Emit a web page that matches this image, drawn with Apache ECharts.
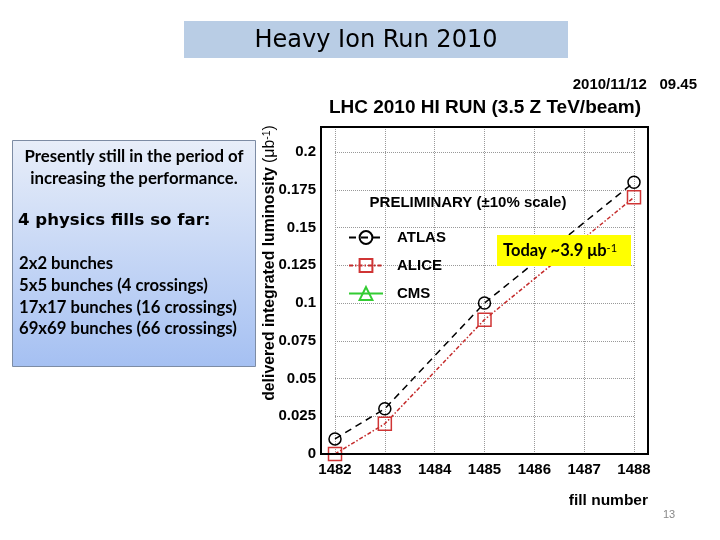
<!DOCTYPE html>
<html><head><meta charset="utf-8">
<script src="https://cdn.jsdelivr.net/npm/echarts@6/dist/echarts.min.js"></script>
<style>html,body{margin:0;padding:0;background:#fff}#c{width:720px;height:540px}</style>
</head><body><div id="c"></div>
<script>
// ---- data ----
const fillNumbers = [1482, 1483, 1485, 1488];
const atlasLumi = [0.010, 0.030, 0.100, 0.180];
const aliceLumi = [0.000, 0.020, 0.089, 0.170];
const cmsLumi = [];
const seriesNames = ['ATLAS', 'ALICE', 'CMS'];
const infoHeader = ['Presently still in the period of', 'increasing the performance.'];
const infoTitle = '4 physics fills so far:';
const infoLines = ['2x2 bunches', '5x5 bunches (4 crossings)', '17x17 bunches (16 crossings)', '69x69 bunches (66 crossings)'];

const pairs = arr => arr.map((v, i) => [fillNumbers[i], v]);
const chart = echarts.init(document.getElementById('c'), null, {renderer: 'canvas'});
const AX = 'Liberation Sans';
const BODY = 'Lato';

const graphics = [
  {type: 'rect', shape: {x: 184, y: 21, width: 384, height: 37}, style: {fill: '#b9cde5'}, z: 10},
  {type: 'text', x: 376, y: 41, z: 11, style: {text: 'Heavy Ion Run 2010', fontSize: 24, fontFamily: 'DejaVu Sans', fill: '#000', textAlign: 'center', textVerticalAlign: 'middle', align: 'center', verticalAlign: 'middle'}},
  {type: 'text', x: 697, y: 85, z: 11, style: {text: '2010/11/12   09.45', fontSize: 15, fontWeight: 'bold', fontFamily: AX, fill: '#000', textAlign: 'right', textVerticalAlign: 'middle', align: 'right', verticalAlign: 'middle'}},
  {type: 'text', x: 485, y: 108, z: 11, style: {text: 'LHC 2010 HI RUN (3.5 Z TeV/beam)', fontSize: 19, fontWeight: 'bold', fontFamily: AX, fill: '#000', textAlign: 'center', textVerticalAlign: 'middle', align: 'center', verticalAlign: 'middle'}},
  {type: 'rect', shape: {x: 321, y: 127, width: 327, height: 327}, style: {fill: 'none', stroke: '#000', lineWidth: 2}, z: 50},
  {type: 'text', x: 468, y: 203, z: 11, style: {text: 'PRELIMINARY (\u00b110% scale)', fontSize: 15, fontWeight: 'bold', fontFamily: AX, fill: '#000', textAlign: 'center', textVerticalAlign: 'middle', align: 'center', verticalAlign: 'middle'}},
  {type: 'rect', shape: {x: 497, y: 235, width: 134, height: 31}, style: {fill: '#ffff00'}, z: 60},
  {type: 'text', x: 503, y: 251, z: 61, style: {text: '{m|Today ~3.9 \u03bcb}{s|-1}', fill: '#000', textAlign: 'left', textVerticalAlign: 'middle', align: 'left', verticalAlign: 'middle',
    rich: {m: {fontSize: 16.5, fontWeight: 'bold', fontFamily: BODY, fill: '#000'}, s: {fontSize: 11, fontFamily: BODY, fill: '#000', verticalAlign: 'top'}}}},
  {type: 'text', x: 270, y: 263, rotation: Math.PI / 2, z: 11, style: {text: '{b|delivered integrated luminosity }{n|(\u03bcb}{s|-1}{n|)}', fill: '#000', textAlign: 'center', textVerticalAlign: 'middle', align: 'center', verticalAlign: 'middle',
    rich: {b: {fontSize: 15.8, fontWeight: 'bold', fontFamily: AX, fill: '#000'}, n: {fontSize: 15.8, fontFamily: AX, fill: '#000'}, s: {fontSize: 10.5, fontFamily: AX, fill: '#000', verticalAlign: 'top'}}}},
  {type: 'text', x: 648, y: 501, z: 11, style: {text: 'fill number', fontSize: 15.5, fontWeight: 'bold', fontFamily: AX, fill: '#000', textAlign: 'right', textVerticalAlign: 'middle', align: 'right', verticalAlign: 'middle'}},
  {type: 'text', x: 669, y: 515, z: 11, style: {text: '13', fontSize: 11, fontFamily: 'Liberation Sans', fill: '#888', textAlign: 'center', textVerticalAlign: 'middle', align: 'center', verticalAlign: 'middle'}},
  {type: 'rect', shape: {x: 12.5, y: 140.5, width: 243, height: 226}, z: 10,
    style: {fill: {type: 'linear', x: 0, y: 0, x2: 0, y2: 1, colorStops: [{offset: 0, color: '#e8eef9'}, {offset: 1, color: '#a5c0f2'}]}, stroke: '#7d8ca4', lineWidth: 1}}
];
infoHeader.forEach((t, i) => graphics.push({type: 'text', x: 134, y: 157 + i * 22, z: 11,
  style: {text: t, fontSize: 16.8, fontWeight: 'bold', fontFamily: BODY, fill: '#000', textAlign: 'center', textVerticalAlign: 'middle', align: 'center', verticalAlign: 'middle'}}));
graphics.push({type: 'text', x: 18, y: 221, z: 11,
  style: {text: infoTitle, fontSize: 16.6, fontWeight: 'bold', fontFamily: 'DejaVu Sans', fill: '#000', textAlign: 'left', textVerticalAlign: 'middle', align: 'left', verticalAlign: 'middle'}});
infoLines.forEach((t, i) => graphics.push({type: 'text', x: 19, y: 264 + i * 21.7, z: 11,
  style: {text: t, fontSize: 16.7, fontWeight: 'bold', fontFamily: BODY, fill: '#000', textAlign: 'left', textVerticalAlign: 'middle', align: 'left', verticalAlign: 'middle'}}));

const isTick = (v, step) => Math.abs(v / step - Math.round(v / step)) < 1e-6;

chart.setOption({
  animation: false,
  backgroundColor: '#fff',
  grid: {left: 335, top: 127, width: 299, height: 327, containLabel: false},
  xAxis: {type: 'value', min: 1482, max: 1488, interval: 1,
    axisLine: {show: false}, axisTick: {show: false},
    splitLine: {show: true, lineStyle: {color: '#999', type: 'dotted', width: 1}},
    axisLabel: {margin: 8, fontSize: 15, fontWeight: 'bold', fontFamily: AX, color: '#000', formatter: v => String(v)}},
  yAxis: {type: 'value', min: 0, max: 0.2166, interval: 0.025, offset: 14,
    axisLine: {show: false}, axisTick: {show: false},
    splitLine: {show: true, lineStyle: {color: '#999', type: 'dotted', width: 1}},
    axisLabel: {margin: 5, fontSize: 15, fontWeight: 'bold', fontFamily: AX, color: '#000',
      formatter: v => isTick(v, 0.025) ? String(+v.toFixed(3)) : ''}},
  legend: {orient: 'vertical', left: 343, top: 225, itemWidth: 34, itemHeight: 16, itemGap: 13, selectedMode: false,
    data: seriesNames,
    textStyle: {fontSize: 15, fontWeight: 'bold', fontFamily: AX, color: '#000', padding: [0, 0, 0, 9]}},
  series: [
    {name: 'ATLAS', type: 'line', data: pairs(atlasLumi), symbol: 'circle', symbolSize: 12, z: 3,
      itemStyle: {color: 'rgba(0,0,0,0)', borderColor: '#000', borderWidth: 1.5},
      lineStyle: {color: '#000', width: 1.5, type: [7, 5]}},
    {name: 'ALICE', type: 'line', data: pairs(aliceLumi), symbol: 'rect', symbolSize: 13, z: 4,
      itemStyle: {color: 'rgba(0,0,0,0)', borderColor: '#d03535', borderWidth: 1.5},
      lineStyle: {color: '#c42a2a', width: 1.5, type: [4, 2, 1.5, 2]}},
    {name: 'CMS', type: 'line', data: pairs(cmsLumi), symbol: 'triangle', symbolSize: 14, z: 3,
      itemStyle: {color: 'rgba(0,0,0,0)', borderColor: '#33cc33', borderWidth: 1.5},
      lineStyle: {color: '#33cc33', width: 2, type: 'solid'}}
  ],
  graphic: graphics
});
</script></body></html>
